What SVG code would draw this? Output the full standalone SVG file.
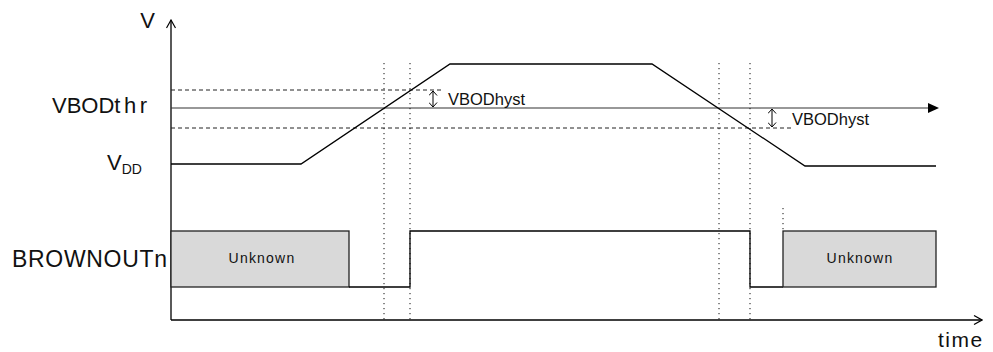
<svg xmlns="http://www.w3.org/2000/svg" width="993" height="352" viewBox="0 0 993 352">
<style>
.ln{fill:none;stroke:#000;stroke-width:1.3}
.th{fill:none;stroke:#333;stroke-width:1.2}
.dash{fill:none;stroke:#222;stroke-width:1;stroke-dasharray:4,3}
.dot{fill:none;stroke:#111;stroke-width:1;stroke-dasharray:1.2,3.8}
.box{fill:#d9d9d9;stroke:#222;stroke-width:1.3}
text{font-family:"Liberation Sans",Arial,sans-serif;fill:#111}
.big{font-size:22px}
.small{font-size:16.5px}
.unk{font-size:14px;letter-spacing:1.2px}
</style>
<defs>
<marker id="open" viewBox="0 0 10 10" refX="9" refY="5" markerWidth="10" markerHeight="10" markerUnits="userSpaceOnUse" orient="auto">
<path d="M1,0.5 L9,5 L1,9.5" fill="none" stroke="#000" stroke-width="1.2"/>
</marker>
<marker id="hy" viewBox="0 0 10 10" refX="9" refY="5" markerWidth="9" markerHeight="9" markerUnits="userSpaceOnUse" orient="auto-start-reverse">
<path d="M4,0.5 L9,5 L4,9.5" fill="none" stroke="#000" stroke-width="1.1"/>
</marker>
</defs>
<g id="axes">
<line class="ln" x1="171" y1="320" x2="171" y2="20" marker-end="url(#open)"/>
<line class="ln" x1="171" y1="320" x2="982" y2="320" marker-end="url(#open)"/>
</g>
<g id="labels">
<text class="big" x="155" y="28" text-anchor="end">V</text>
<text class="big" x="52" y="113">VBOD<tspan letter-spacing="3.5">thr</tspan></text>
<text class="big" x="107" y="170">V<tspan font-size="14" dy="4">DD</tspan></text>
<text x="12" y="267" font-size="23" textLength="155">BROWNOUTn</text>
<text x="938" y="347" font-size="21" letter-spacing="1.5">time</text>
</g>
<g id="thresholds">
<line class="dash" x1="171" y1="90" x2="443" y2="90"/>
<line class="th" x1="171" y1="108" x2="929" y2="108"/>
<path d="M928,103 L939,108 L928,113 Z" fill="#000"/>
<line class="dash" x1="171" y1="128" x2="792" y2="128"/>
</g>
<g id="dotted">
<line class="dot" x1="384" y1="63" x2="384" y2="320"/>
<line class="dot" x1="410" y1="63" x2="410" y2="320"/>
<line class="dot" x1="719" y1="63" x2="719" y2="320"/>
<line class="dot" x1="750" y1="63" x2="750" y2="320"/>
<line class="dot" x1="783" y1="208" x2="783" y2="230"/>
</g>
<g id="vdd">
<polyline class="ln" points="171,164 301,164 450,64 652,64 805,166 936,166"/>
</g>
<g id="hyst1">
<line stroke="#000" stroke-width="1" x1="433" y1="91" x2="433" y2="107" marker-start="url(#hy)" marker-end="url(#hy)"/>
<text class="small" x="448" y="105">VBODhyst</text>
</g>
<g id="hyst2">
<line stroke="#000" stroke-width="1" x1="772" y1="109" x2="772" y2="127" marker-start="url(#hy)" marker-end="url(#hy)"/>
<text class="small" x="792" y="125">VBODhyst</text>
</g>
<g id="brownout">
<rect class="box" x="171" y="231" width="178" height="56"/>
<text class="unk" x="262" y="263" text-anchor="middle">Unknown</text>
<polyline class="ln" points="349,287 410,287 410,231 750,231 750,287 783,287"/>
<rect class="box" x="783" y="231" width="153" height="56"/>
<text class="unk" x="860" y="263" text-anchor="middle">Unknown</text>
</g>
</svg>
